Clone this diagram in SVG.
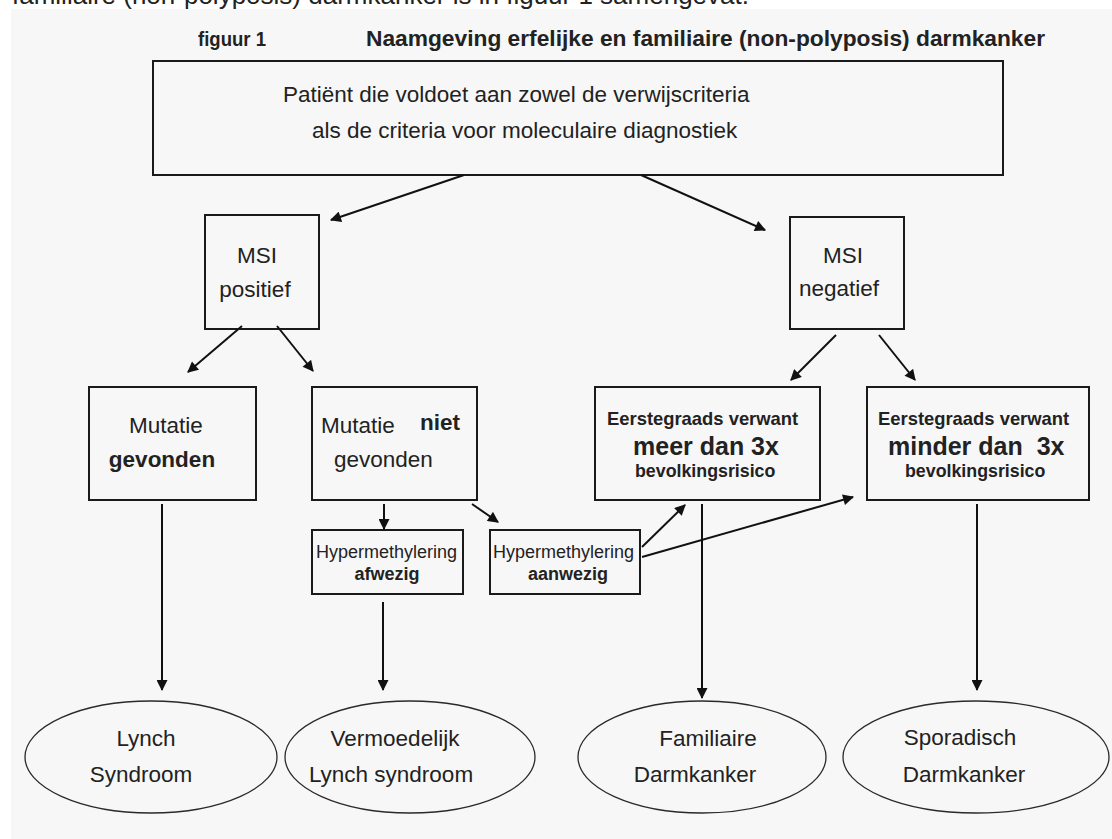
<svg xmlns="http://www.w3.org/2000/svg" width="1112" height="839" viewBox="0 0 1112 839">
  <defs>
    <style>
      text { font-family: "Liberation Sans", Arial, sans-serif; fill: #222; }
      .box { fill: none; stroke: #1a1a1a; stroke-width: 2; }
      .oval { fill: none; stroke: #2a2a2a; stroke-width: 1.3; }
      .edge { fill: none; stroke: #111; stroke-width: 2; }
      .t22 { font-size: 22.5px; }
      .t18 { font-size: 18px; }
      .b { font-weight: bold; }
      .mid { text-anchor: middle; }
      .pre { white-space: pre; }
    </style>
    <marker id="arrow" viewBox="0 0 10 10" refX="9" refY="5" markerWidth="12" markerHeight="11" markerUnits="userSpaceOnUse" orient="auto">
      <path d="M0,0 L10,5 L0,10 Z" fill="#111"/>
    </marker>
  </defs>

  <rect x="0" y="0" width="1112" height="839" fill="#ffffff"/>
  <rect x="11" y="9" width="1101" height="830" fill="#f7f7f7"/>

  <!-- running text above the figure, clipped by the page edge -->
  <text x="12" y="3.5" font-size="26" fill="#111">familiaire (non-polyposis) darmkanker is in figuur 1 samengevat.</text>

  <!-- heading -->
  <g id="heading">
    <text x="198" y="46" font-size="20" class="b" textLength="68" lengthAdjust="spacingAndGlyphs">figuur 1</text>
    <text x="366" y="46" font-size="22" class="b" textLength="679" lengthAdjust="spacingAndGlyphs">Naamgeving erfelijke en familiaire (non-polyposis) darmkanker</text>
  </g>

  <g id="n-patient">
    <rect class="box" x="153" y="61" width="850" height="114"/>
    <text class="t22" x="283" y="102">Patiënt die voldoet aan zowel de verwijscriteria</text>
    <text class="t22" x="312" y="138">als de criteria voor moleculaire diagnostiek</text>
  </g>

  <g id="n-msi-pos">
    <rect class="box" x="205" y="215" width="114" height="114"/>
    <text class="t22 mid" x="257" y="263">MSI</text>
    <text class="t22 mid" x="255" y="297">positief</text>
  </g>

  <g id="n-msi-neg">
    <rect class="box" x="790" y="217" width="114" height="112"/>
    <text class="t22 mid" x="843" y="263">MSI</text>
    <text class="t22 mid" x="839" y="296">negatief</text>
  </g>

  <g id="n-mut-found">
    <rect class="box" x="89" y="387" width="167" height="113"/>
    <text class="t22 mid" x="166" y="433">Mutatie</text>
    <text class="t22 b mid" x="162" y="467">gevonden</text>
  </g>

  <g id="n-mut-notfound">
    <rect class="box" x="312" y="387" width="165" height="113"/>
    <text class="t22" x="321" y="433">Mutatie</text>
    <text class="t22 b" x="420" y="430">niet</text>
    <text class="t22" x="334" y="467">gevonden</text>
  </g>

  <g id="n-hyper-absent">
    <rect class="box" x="312" y="530" width="151" height="64"/>
    <text class="t18" x="316" y="558">Hypermethylering</text>
    <text class="t18 b mid" x="387" y="580">afwezig</text>
  </g>

  <g id="n-hyper-present">
    <rect class="box" x="490" y="530" width="150" height="64"/>
    <text class="t18" x="493" y="558">Hypermethylering</text>
    <text class="t18 b mid" x="568" y="580">aanwezig</text>
  </g>

  <g id="n-first-more">
    <rect class="box" x="595" y="387" width="225" height="113"/>
    <text x="607" y="425" font-size="18.4" class="b">Eerstegraads verwant</text>
    <text x="633" y="455" font-size="25" class="b">meer dan 3x</text>
    <text x="635" y="477" font-size="17.8" class="b">bevolkingsrisico</text>
  </g>

  <g id="n-first-less">
    <rect class="box" x="867" y="387" width="222" height="113"/>
    <text x="878" y="425" font-size="18.4" class="b">Eerstegraads verwant</text>
    <text x="888" y="455" font-size="25" class="b pre">minder dan  3x</text>
    <text x="905" y="477" font-size="17.8" class="b">bevolkingsrisico</text>
  </g>

  <g id="n-lynch">
    <ellipse class="oval" cx="151" cy="757" rx="126" ry="56"/>
    <text class="t22 mid" x="146" y="746">Lynch</text>
    <text class="t22 mid" x="141" y="782">Syndroom</text>
  </g>

  <g id="n-prob-lynch">
    <ellipse class="oval" cx="410" cy="757" rx="125" ry="56"/>
    <text class="t22 mid" x="395" y="746">Vermoedelijk</text>
    <text class="t22 mid" x="391" y="782">Lynch syndroom</text>
  </g>

  <g id="n-familial">
    <ellipse class="oval" cx="702" cy="757" rx="124" ry="56"/>
    <text class="t22 mid" x="708" y="746">Familiaire</text>
    <text class="t22 mid" x="695" y="782">Darmkanker</text>
  </g>

  <g id="n-sporadic">
    <ellipse class="oval" cx="976" cy="757" rx="133" ry="56"/>
    <text class="t22 mid" x="960" y="745">Sporadisch</text>
    <text class="t22 mid" x="964" y="782">Darmkanker</text>
  </g>

  <g id="connectors">
    <line class="edge" x1="464" y1="175" x2="331" y2="220" marker-end="url(#arrow)"/>
    <line class="edge" x1="641" y1="175" x2="765" y2="230" marker-end="url(#arrow)"/>
    <line class="edge" x1="242" y1="326" x2="188" y2="372" marker-end="url(#arrow)"/>
    <line class="edge" x1="277" y1="326" x2="313" y2="371" marker-end="url(#arrow)"/>
    <line class="edge" x1="836" y1="335" x2="791" y2="380" marker-end="url(#arrow)"/>
    <line class="edge" x1="879" y1="335" x2="915" y2="380" marker-end="url(#arrow)"/>
    <line class="edge" x1="384" y1="504" x2="384" y2="529" marker-end="url(#arrow)"/>
    <line class="edge" x1="472" y1="504" x2="498" y2="522" marker-end="url(#arrow)"/>
    <line class="edge" x1="642" y1="547" x2="685" y2="505" marker-end="url(#arrow)"/>
    <line class="edge" x1="642" y1="557" x2="853" y2="497" marker-end="url(#arrow)"/>
    <line class="edge" x1="162" y1="504" x2="162" y2="690" marker-end="url(#arrow)"/>
    <line class="edge" x1="383" y1="602" x2="383" y2="690" marker-end="url(#arrow)"/>
    <line class="edge" x1="702" y1="504" x2="702" y2="698" marker-end="url(#arrow)"/>
    <line class="edge" x1="977" y1="504" x2="977" y2="690" marker-end="url(#arrow)"/>
  </g>
</svg>
